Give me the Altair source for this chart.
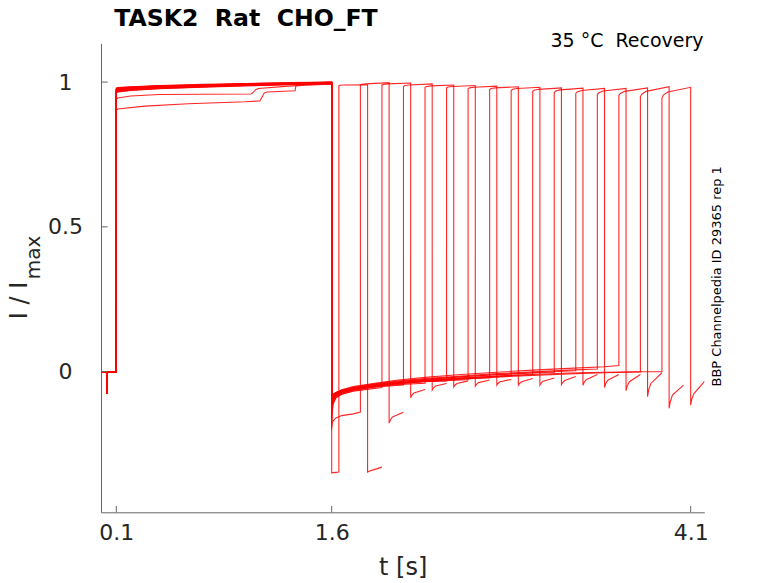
import altair as alt
import pandas as pd

# ---------------- axes ----------------
X_DOMAIN = [-0.0066, 4.195]
Y_DOMAIN = [-0.486, 1.134]
x_ticks = [0.1, 1.6, 4.1]
y_ticks = [0, 0.5, 1]

# ---------------- protocol (16 sweeps) ----------------
pulse_start = [1.65, 1.80, 1.95, 2.10, 2.25, 2.40, 2.55, 2.70,
               2.85, 3.00, 3.15, 3.30, 3.45, 3.60, 3.75, 3.90]
pulse_dt = [0.0, 0.01, 0.04, 0.2]
tail_dt = [0.0, 0.008, 0.023, 0.1]

# before the first step (shared by all sweeps)
pre_t = [-0.006, 0.034, 0.035, 0.037, 0.038, 0.0995]
pre_y = [0.0, 0.0, -0.076, -0.07, 0.0, 0.0]

# first step 0.1 s .. 1.6 s
b_t = [0.1, 0.11, 0.2, 0.4, 0.7, 1.0, 1.3, 1.6]
b_vals = [
    [0.972, 0.975, 0.979, 0.984, 0.988, 0.992, 0.995, 0.998],
    [0.968, 0.971, 0.976, 0.981, 0.986, 0.990, 0.994, 0.997],
    [0.975, 0.978, 0.982, 0.986, 0.990, 0.994, 0.997, 0.999],
    [0.965, 0.968, 0.973, 0.979, 0.984, 0.988, 0.992, 0.995],
    None,
    [0.978, 0.980, 0.983, 0.987, 0.991, 0.994, 0.997, 1.000],
    [0.962, 0.966, 0.971, 0.977, 0.982, 0.987, 0.991, 0.994],
    [0.970, 0.973, 0.977, 0.982, 0.987, 0.991, 0.994, 0.997],
    [0.974, 0.977, 0.981, 0.985, 0.989, 0.993, 0.996, 0.999],
    None,
    [0.966, 0.969, 0.974, 0.980, 0.985, 0.989, 0.993, 0.996],
    [0.979, 0.981, 0.984, 0.988, 0.992, 0.995, 0.998, 1.000],
    [0.969, 0.972, 0.976, 0.981, 0.986, 0.990, 0.993, 0.996],
    [0.963, 0.967, 0.972, 0.978, 0.983, 0.988, 0.992, 0.995],
    [0.976, 0.979, 0.982, 0.986, 0.990, 0.993, 0.996, 0.999],
    [0.971, 0.974, 0.978, 0.983, 0.988, 0.992, 0.995, 0.998],
]
# the two lower first-step traces
bx_t = [0.1, 0.11, 0.2, 0.4, 0.7, 1.04, 1.055, 1.07, 1.09, 1.3, 1.6]
bx_y = [0.94, 0.945, 0.952, 0.957, 0.958, 0.959, 0.965, 0.974, 0.978, 0.986, 0.994]
by_t = [0.1, 0.11, 0.3, 0.6, 1.0, 1.1, 1.115, 1.13, 1.15, 1.345, 1.35, 1.36, 1.6]
by_y = [0.903, 0.907, 0.917, 0.925, 0.932, 0.935, 0.948, 0.962, 0.966, 0.970, 0.985, 0.990, 0.997]

# recovery interval 1.6 s .. pulse start
c_t = [1.6, 1.602, 1.61, 1.63, 1.67, 1.75, 1.9, 2.05, 2.25, 2.5, 2.75, 3.0, 3.25, 3.5, 3.75]
c_vals = [
    [-0.35, -0.35, -0.349, -0.348],
    [-0.19, -0.182, -0.17, -0.16, -0.152, -0.146],
    [-0.17, -0.14, -0.11, -0.09, -0.078, -0.068, -0.058],
    [-0.14, -0.12, -0.1, -0.085, -0.075, -0.064, -0.053, -0.048],
    [-0.2, -0.15, -0.11, -0.09, -0.078, -0.066, -0.053, -0.045],
    [-0.1, -0.09, -0.08, -0.075, -0.068, -0.058, -0.047, -0.04, -0.034],
    [-0.16, -0.13, -0.1, -0.085, -0.074, -0.063, -0.051, -0.043, -0.035, -0.029],
    [-0.12, -0.1, -0.088, -0.078, -0.07, -0.06, -0.048, -0.04, -0.032, -0.025],
    [-0.09, -0.085, -0.078, -0.072, -0.066, -0.057, -0.046, -0.038, -0.03, -0.022, -0.017],
    [-0.15, -0.12, -0.095, -0.08, -0.07, -0.06, -0.048, -0.04, -0.031, -0.022, -0.015],
    [-0.11, -0.095, -0.083, -0.074, -0.066, -0.056, -0.044, -0.036, -0.027, -0.018, -0.011, -0.005],
    [-0.13, -0.11, -0.09, -0.078, -0.068, -0.057, -0.045, -0.036, -0.027, -0.018, -0.01, -0.004, 0.002],
    [-0.095, -0.088, -0.08, -0.072, -0.064, -0.054, -0.042, -0.033, -0.024, -0.015, -0.007, -0.001, 0.005],
    [-0.12, -0.1, -0.085, -0.073, -0.063, -0.052, -0.04, -0.03, -0.02, -0.01, -0.002, 0.005, 0.011, 0.017],
    [-0.1, -0.09, -0.082, -0.076, -0.07, -0.061, -0.05, -0.042, -0.034, -0.026, -0.019, -0.013, -0.008, -0.004],
    [-0.14, -0.115, -0.095, -0.082, -0.072, -0.062, -0.05, -0.041, -0.032, -0.023, -0.016, -0.01, -0.005, -0.002, -0.0005],
]
c_end = [-0.347, -0.14, -0.055, -0.046, -0.04, -0.032, -0.028, -0.021,
         -0.015, -0.01, -0.003, 0.003, 0.009, 0.021, -0.001, 0.0]

# second pulse levels (at pulse_dt)
pulse_y = [
    [0.988, 0.989, 0.990, 0.991],
    [0.990, 0.992, 0.994, 0.998],
    [0.990, 0.992, 0.994, 0.997],
    [0.985, 0.988, 0.990, 0.994],
    [0.982, 0.985, 0.987, 0.990],
    [0.980, 0.983, 0.985, 0.988],
    [0.977, 0.980, 0.982, 0.986],
    [0.974, 0.978, 0.980, 0.984],
    [0.971, 0.975, 0.978, 0.982],
    [0.968, 0.972, 0.975, 0.980],
    [0.964, 0.969, 0.973, 0.979],
    [0.961, 0.966, 0.971, 0.978],
    [0.957, 0.963, 0.969, 0.978],
    [0.954, 0.961, 0.968, 0.980],
    [0.950, 0.958, 0.968, 0.984],
    [0.944, 0.955, 0.966, 0.982],
]
# tails after the second pulse (at tail_dt)
tail_y = [
    [-0.347, -0.345, -0.342, -0.33],
    [-0.178, -0.168, -0.157, -0.14],
    [-0.09, -0.082, -0.074, -0.062],
    [-0.064, -0.057, -0.05, -0.041],
    [-0.053, -0.047, -0.041, -0.032],
    [-0.05, -0.044, -0.038, -0.029],
    [-0.047, -0.041, -0.035, -0.027],
    [-0.047, -0.041, -0.035, -0.024],
    [-0.047, -0.04, -0.033, -0.022],
    [-0.045, -0.038, -0.031, -0.017],
    [-0.047, -0.037, -0.028, -0.01],
    [-0.055, -0.042, -0.03, -0.01],
    [-0.066, -0.05, -0.035, -0.01],
    [-0.087, -0.062, -0.041, -0.004],
    [-0.127, -0.105, -0.081, -0.047],
    [-0.116, -0.095, -0.076, -0.032],
]

# ---------------- build table ----------------
rows = []
for k in range(len(pulse_start)):
    pts = list(zip(pre_t, pre_y))
    if k == 4:
        pts += list(zip(bx_t, bx_y))
    elif k == 9:
        pts += list(zip(by_t, by_y))
    else:
        pts += list(zip(b_t, b_vals[k]))
    P = pulse_start[k]
    pts += list(zip(c_t, c_vals[k]))
    pts.append((P, c_end[k]))
    pts += [(P + d, v) for d, v in zip(pulse_dt, pulse_y[k])]
    E = P + pulse_dt[-1]
    pts += [(E + d, v) for d, v in zip(tail_dt, tail_y[k])]
    for i, (t, v) in enumerate(pts):
        rows.append({"sweep": k, "i": i, "t": t, "y": v})
df = pd.DataFrame(rows)

# ---------------- chart ----------------
W, H = 603.3, 469.0
GRAY = "#666666"
TXT = "#262626"
FONT = "DejaVu Sans"

xs = alt.Scale(domain=X_DOMAIN, nice=False, zero=False)
ys = alt.Scale(domain=Y_DOMAIN, nice=False, zero=False)

x_axis = alt.Axis(
    values=x_ticks, format=".1f", title="t [s]", grid=False, ticks=False, tickSize=0,
    domainColor=GRAY, domainWidth=1, labelColor=TXT, labelFont=FONT, labelFontSize=22,
    labelBaseline="alphabetic", labelPadding=27.7, labelFlush=False,
    titleFont=FONT, titleFontSize=24, titleFontWeight="normal", titleColor=TXT,
    titleX=W / 2, titleY=62.7, titleAlign="center", titleBaseline="alphabetic")
y_axis = alt.Axis(
    values=y_ticks, format="~g", title="I / I", grid=False, ticks=False, tickSize=0,
    domainColor=GRAY, domainWidth=1, labelColor=TXT, labelFont=FONT, labelFontSize=22,
    labelAlign="center", labelPadding=36.0, labelFlush=False,
    titleFont=FONT, titleFontSize=24, titleFontWeight="normal", titleColor=TXT,
    titleAngle=270, titleX=-74.3, titleY=256.7, titleAlign="center",
    titleBaseline="alphabetic")

lines = alt.Chart(df).mark_line(color="#ff0000", strokeWidth=1.1, opacity=0.85, clip=True).encode(
    x=alt.X("t:Q", scale=xs, axis=x_axis),
    y=alt.Y("y:Q", scale=ys, axis=y_axis),
    detail="sweep:N",
    order="i:Q",
)

xtick = alt.Chart(pd.DataFrame({"t": x_ticks})).mark_rule(color=GRAY, strokeWidth=1).encode(
    x=alt.X("t:Q", scale=xs, axis=x_axis), y=alt.value(H), y2=alt.value(H - 6.3))
ytick = alt.Chart(pd.DataFrame({"y": y_ticks})).mark_rule(color=GRAY, strokeWidth=1).encode(
    y=alt.Y("y:Q", scale=ys, axis=y_axis), x=alt.value(0), x2=alt.value(6.7))


def label(text, x, y, size, **kw):
    return alt.Chart(pd.DataFrame({"s": [text]})).mark_text(
        font=FONT, fontSize=size, baseline="alphabetic", **kw).encode(
        text="s:N", x=alt.value(x), y=alt.value(y))


title = label("TASK2\u00a0 Rat\u00a0 CHO_FT", 13.3, -17.0, 23.6, align="left",
              fontWeight="bold", color="black")
cond = label("35 \u00b0C\u00a0 Recovery", 602.5, 3.7, 19, align="right", color="black")
sub = label("max", -61, 214.2, 20, align="center", angle=270, color=TXT)
side = label("BBP Channelpedia ID 29365 rep 1", 620, 233, 13, align="center",
             angle=270, color="black")

chart = alt.layer(lines, xtick, ytick, title, cond, sub, side).properties(
    width=W, height=H,
    autosize=alt.AutoSizeParams(type="none"),
    padding={"left": 93, "top": 35.3, "right": 50, "bottom": 75},
    background="white",
).configure_view(stroke=None)

chart.save("out.html", embed_options={"renderer": "svg", "actions": False})
